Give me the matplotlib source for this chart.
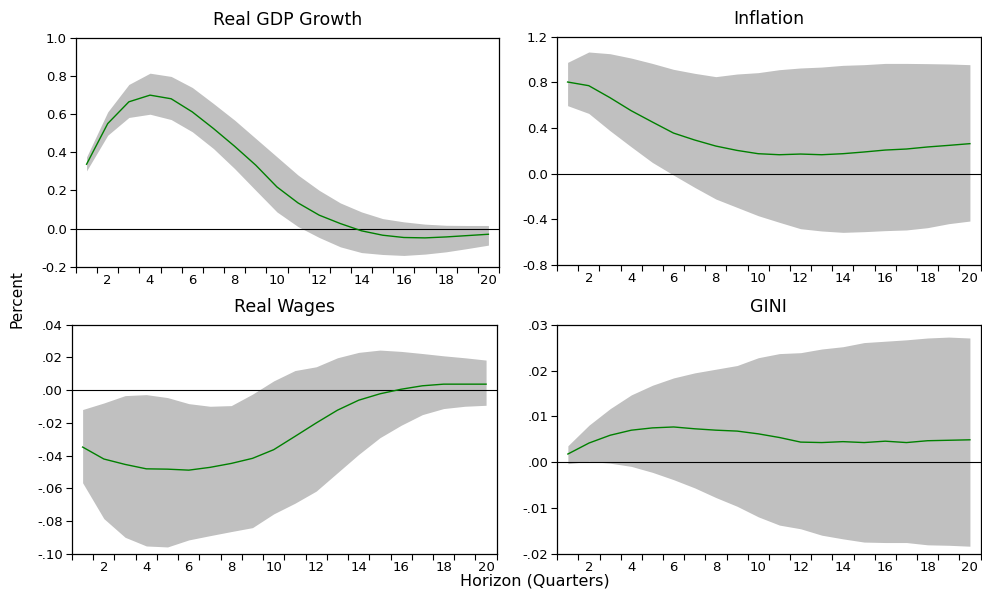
import numpy as np
import matplotlib
matplotlib.use("Agg")
import matplotlib.pyplot as plt
from matplotlib.ticker import FixedLocator, FuncFormatter

# horizon in quarters
horizon = np.arange(1, 21)

# impulse responses with error bands
gdp_resp = [0.337, 0.55, 0.664, 0.699, 0.68, 0.611, 0.524, 0.431, 0.332, 0.218,
            0.134, 0.07, 0.026, -0.012, -0.035, -0.047, -0.049, -0.044, -0.037, -0.03]
gdp_hi = [0.375, 0.611, 0.755, 0.814, 0.797, 0.739, 0.655, 0.568, 0.472, 0.376,
          0.28, 0.2, 0.134, 0.087, 0.052, 0.035, 0.023, 0.017, 0.016, 0.016]
gdp_lo = [0.302, 0.489, 0.582, 0.599, 0.571, 0.507, 0.419, 0.314, 0.2, 0.087,
          0.01, -0.047, -0.096, -0.126, -0.136, -0.141, -0.134, -0.122, -0.105, -0.087]

infl_resp = [0.803, 0.771, 0.666, 0.552, 0.453, 0.356, 0.295, 0.242, 0.204, 0.175,
             0.166, 0.172, 0.166, 0.175, 0.19, 0.207, 0.216, 0.234, 0.248, 0.263]
infl_hi = [0.975, 1.066, 1.051, 1.013, 0.966, 0.914, 0.879, 0.85, 0.873, 0.885,
           0.911, 0.926, 0.934, 0.949, 0.955, 0.966, 0.966, 0.964, 0.961, 0.955]
infl_lo = [0.596, 0.528, 0.377, 0.236, 0.099, -0.012, -0.12, -0.222, -0.295, -0.368,
           -0.426, -0.482, -0.502, -0.514, -0.508, -0.499, -0.493, -0.473, -0.438, -0.415]

wage_resp = [-0.0347, -0.042, -0.0453, -0.048, -0.0482, -0.0488, -0.0471, -0.0447, -0.0416, -0.0363,
             -0.0282, -0.02, -0.0122, -0.0061, -0.0022, 0.0006, 0.0027, 0.0037, 0.0037, 0.0037]
wage_hi = [-0.0118, -0.0078, -0.0033, -0.0027, -0.0045, -0.0082, -0.0098, -0.0094, -0.0024, 0.0057,
           0.012, 0.0143, 0.0198, 0.0231, 0.0245, 0.0237, 0.0224, 0.021, 0.0198, 0.0184]
wage_lo = [-0.0565, -0.0784, -0.0898, -0.0951, -0.0957, -0.0914, -0.0888, -0.0863, -0.0839, -0.0755,
           -0.069, -0.0616, -0.0504, -0.0392, -0.029, -0.0214, -0.0149, -0.0112, -0.0098, -0.0092]

gini_resp = [0.0018, 0.0042, 0.0059, 0.007, 0.0075, 0.0077, 0.0073, 0.007, 0.0068, 0.0062,
             0.0054, 0.0044, 0.0043, 0.0045, 0.0043, 0.0046, 0.0043, 0.0047, 0.0048, 0.0049]
gini_hi = [0.0036, 0.0081, 0.0117, 0.0147, 0.0168, 0.0184, 0.0195, 0.0203, 0.0211, 0.0228,
           0.0237, 0.0239, 0.0247, 0.0252, 0.0261, 0.0264, 0.0267, 0.0271, 0.0273, 0.0271]
gini_lo = [-0.0003, 0.0002, -0.0002, -0.0009, -0.0022, -0.0038, -0.0056, -0.0077, -0.0096, -0.0119,
           -0.0137, -0.0145, -0.0159, -0.0167, -0.0174, -0.0175, -0.0175, -0.018, -0.0181, -0.0183]

titles = ["Real GDP Growth", "Inflation", "Real Wages", "GINI"]
ylims = [(-0.2, 1.0), (-0.8, 1.2), (-0.10, 0.04), (-0.02, 0.03)]
ysteps = [0.2, 0.4, 0.02, 0.01]
xlabels = np.arange(2, 21, 2)


def fmt_decimal(v, pos):
    return "%.1f" % v


def fmt_small(v, pos):
    # eviews style: no leading zero
    if abs(v) < 1e-9:
        return ".00"
    return ("%.2f" % v).replace("0.", ".", 1)


W, H = 982, 594
# axes boxes in pixels: left, top, right, bottom
boxes = [(76, 37.7, 499, 266.7), (557, 36.7, 980.5, 265),
         (72, 324.7, 496.7, 554), (557.3, 324.7, 980.5, 554)]

fig = plt.figure(figsize=(W / 100, H / 100), dpi=100)

panels = [(gdp_resp, gdp_lo, gdp_hi), (infl_resp, infl_lo, infl_hi),
          (wage_resp, wage_lo, wage_hi), (gini_resp, gini_lo, gini_hi)]

for i, (resp, lo, hi) in enumerate(panels):
    l, t, r, b = boxes[i]
    ax = fig.add_axes([l / W, 1 - b / H, (r - l) / W, (b - t) / H])
    ax.fill_between(horizon, lo, hi, color="#c0c0c0", linewidth=0, zorder=1)
    ax.axhline(0, color="black", lw=0.8, zorder=2)
    ax.plot(horizon, resp, color="#008000", lw=1.0, zorder=3)

    ax.set_xlim(0.5, 20.5)
    ax.set_ylim(*ylims[i])
    lo_y, hi_y = ylims[i]
    ax.set_yticks(np.round(np.arange(lo_y, hi_y + ysteps[i] / 2, ysteps[i]), 4))
    ax.yaxis.set_major_formatter(FuncFormatter(fmt_decimal if i < 2 else fmt_small))

    ax.set_xticks(xlabels)
    ax.xaxis.set_minor_locator(FixedLocator(np.arange(0.5, 20.6, 1.0)))
    ax.tick_params(axis="x", which="major", length=0, pad=5, labelsize=9.5)
    ax.tick_params(axis="x", which="minor", length=4, width=0.8, direction="out")
    ax.tick_params(axis="y", which="major", length=4, width=0.8, direction="out",
                   pad=2.5, labelsize=9.5)
    for sp in ax.spines.values():
        sp.set_linewidth(0.9)
    ax.set_title(titles[i], fontsize=12.5, pad=9)

fig.text(17 / W, 1 - 299 / H, "Percent", rotation=90, ha="center", va="center", fontsize=11)
fig.text(535 / W, 1 - 581 / H, "Horizon (Quarters)", ha="center", va="center", fontsize=11.5)

fig.savefig("out.png", dpi=100)
